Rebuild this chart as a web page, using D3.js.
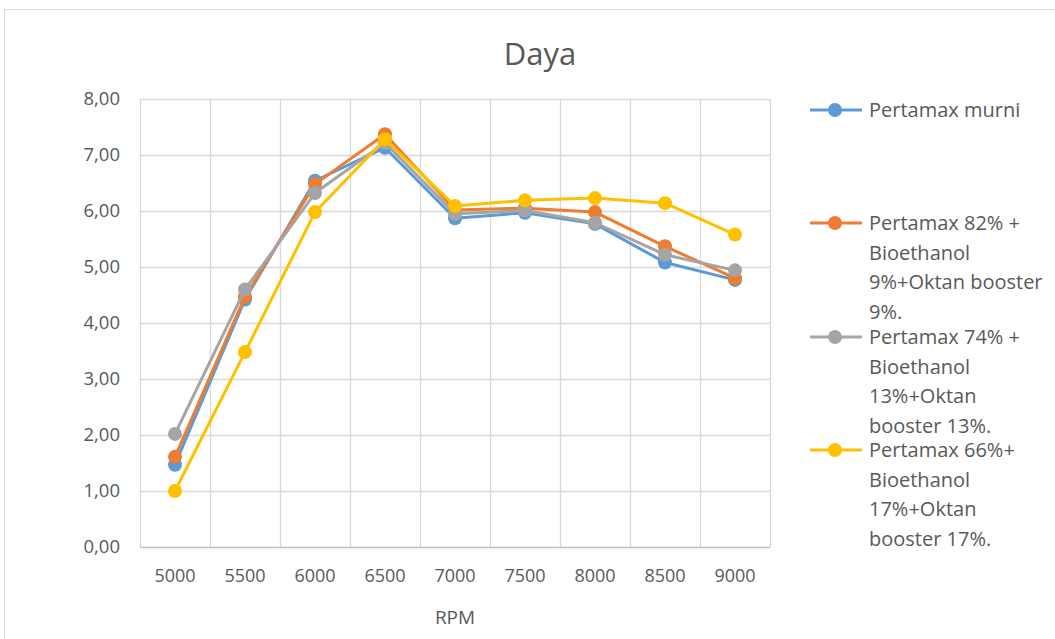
<!DOCTYPE html>
<html>
<head>
<meta charset="utf-8">
<script src="https://cdn.jsdelivr.net/npm/d3@7"></script>
<style>
  body { margin: 0; background: #fff; }
  svg { display: block; font-family: "Open Sans", "Noto Sans", sans-serif; }
</style>
</head>
<body>
<div id="chart"></div>
<script>
const rpm = ["5000", "5500", "6000", "6500", "7000", "7500", "8000", "8500", "9000"];
const seriesNames = [
  ["Pertamax murni"],
  ["Pertamax 82% +", "Bioethanol", "9%+Oktan booster", "9%."],
  ["Pertamax 74% +", "Bioethanol", "13%+Oktan", "booster 13%."],
  ["Pertamax 66%+", "Bioethanol", "17%+Oktan", "booster 17%."]
];
const murni = [1.47, 4.42, 6.54, 7.13, 5.87, 5.97, 5.77, 5.08, 4.77];
const campuran82 = [1.61, 4.47, 6.48, 7.37, 6.02, 6.05, 5.98, 5.37, 4.80];
const campuran74 = [2.02, 4.60, 6.32, 7.22, 5.95, 6.01, 5.79, 5.22, 4.94];
const campuran66 = [1.00, 3.48, 5.98, 7.28, 6.09, 6.19, 6.23, 6.14, 5.58];
const yTicks = [0, 1, 2, 3, 4, 5, 6, 7, 8];
const colors = ["#5B9BD5", "#ED7D31", "#A5A5A5", "#FFC000"];

const width = 1055, height = 639;
const margin = { top: 99, right: 285, bottom: 92, left: 140 };

const svg = d3.select('#chart').append('svg')
  .attr('width', width)
  .attr('height', height);

// bingkai chart
svg.append('rect')
  .attr('x', 4.5).attr('y', 9.5)
  .attr('width', width + 20).attr('height', height + 20)
  .attr('fill', '#fff')
  .attr('stroke', '#d9d9d9');

const x = d3.scaleBand()
  .domain(rpm)
  .range([margin.left, width - margin.right]);

const y = d3.scaleLinear()
  .domain([0, 8])
  .range([height - margin.bottom, margin.top]);

// grid
svg.append('g')
  .selectAll('line')
  .data(yTicks)
  .join('line')
  .attr('x1', margin.left).attr('x2', width - margin.right)
  .attr('y1', d => Math.round(y(d)) + 0.5).attr('y2', d => Math.round(y(d)) + 0.5)
  .attr('stroke', d => d === 0 ? '#bfbfbf' : '#d9d9d9')
  .attr('stroke-width', 1.3);

const bounds = rpm.map(d => x(d)).concat([x(rpm[rpm.length - 1]) + x.bandwidth()]);
svg.append('g')
  .selectAll('line')
  .data(bounds)
  .join('line')
  .attr('x1', d => Math.round(d) + 0.5).attr('x2', d => Math.round(d) + 0.5)
  .attr('y1', y(8)).attr('y2', y(0))
  .attr('stroke', '#d9d9d9')
  .attr('stroke-width', 1.3);

// sumbu
const yAxis = svg.append('g')
  .attr('transform', `translate(${margin.left},0)`)
  .call(d3.axisLeft(y).tickValues(yTicks).tickSize(0).tickPadding(20)
    .tickFormat(d => d3.format('.2f')(d).replace('.', ',')));
yAxis.select('.domain').remove();
yAxis.selectAll('text')
  .attr('fill', '#595959')
  .style('font-size', '18.5px')
  .style('font-family', '"Open Sans", sans-serif');

const xAxis = svg.append('g')
  .attr('transform', `translate(0,${height - margin.bottom})`)
  .call(d3.axisBottom(x).tickSize(0).tickPadding(22));
xAxis.select('.domain').remove();
xAxis.selectAll('text')
  .attr('fill', '#595959')
  .style('font-size', '18px')
  .style('font-family', '"Open Sans", sans-serif');

// judul
svg.append('text')
  .attr('x', 540).attr('y', 65)
  .attr('text-anchor', 'middle')
  .attr('fill', '#595959')
  .style('font-size', '31px')
  .text('Daya');

svg.append('text')
  .attr('x', (margin.left + width - margin.right) / 2).attr('y', 624)
  .attr('text-anchor', 'middle')
  .attr('fill', '#595959')
  .style('font-size', '19px')
  .text('RPM');

// garis
const allSeries = [murni, campuran82, campuran74, campuran66];
const line = d3.line()
  .x((d, i) => x(rpm[i]) + x.bandwidth() / 2)
  .y(d => y(d));

allSeries.forEach((vals, s) => {
  const g = svg.append('g');
  g.append('path')
    .datum(vals)
    .attr('fill', 'none')
    .attr('stroke', colors[s])
    .attr('stroke-width', 3)
    .attr('stroke-linejoin', 'round')
    .attr('d', line);
  g.selectAll('circle')
    .data(vals)
    .join('circle')
    .attr('cx', (d, i) => x(rpm[i]) + x.bandwidth() / 2)
    .attr('cy', d => y(d))
    .attr('r', 7)
    .attr('fill', colors[s]);
});

// legenda
const legendY = [110, 223, 337, 450];
const legend = svg.append('g');
seriesNames.forEach((lines, s) => {
  const g = legend.append('g').attr('transform', `translate(0,${legendY[s]})`);
  g.append('line')
    .attr('x1', 810).attr('x2', 862)
    .attr('stroke', colors[s]).attr('stroke-width', 3);
  g.append('circle')
    .attr('cx', 835).attr('r', 7)
    .attr('fill', colors[s]);
  const t = g.append('text')
    .attr('x', 869)
    .attr('fill', '#595959')
    .style('font-size', '20px');
  lines.forEach((l, i) => {
    t.append('tspan')
      .attr('x', 869)
      .attr('y', i * 29.5 + 7)
      .text(l);
  });
});
</script>
</body>
</html>
